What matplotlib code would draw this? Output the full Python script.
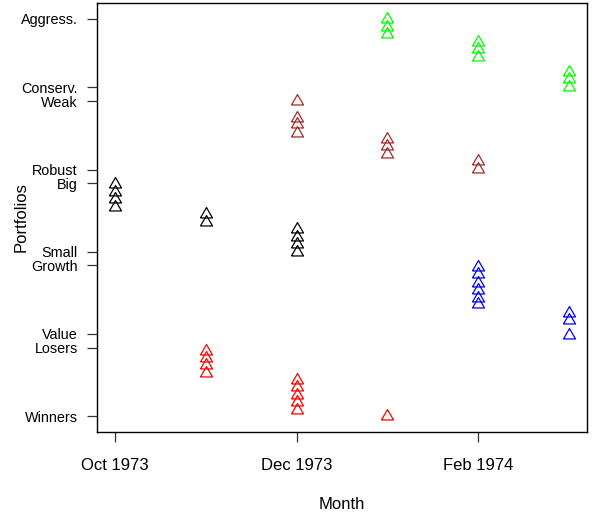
import matplotlib
matplotlib.use("Agg")
from matplotlib import pyplot as plt

plt.rcParams['font.family'] = ['Liberation Sans', 'DejaVu Sans']

# month index: 0 = Oct 1973 ... 5 = Mar 1974
month_ticks = [0, 2, 4]
month_labels = ["Oct 1973", "Dec 1973", "Feb 1974"]

portfolio_pos = [0, 1, 1.2, 2.2, 2.4, 3.4, 3.6, 4.6, 4.8, 5.8]
portfolio_labels = ["Winners", "Losers", "Value", "Growth", "Small",
                    "Big", "Robust", "Weak", "Conserv.", "Aggress."]

size_month = [0, 0, 0, 0, 1, 1, 2, 2, 2, 2]
size_val = [3.39, 3.27, 3.17, 3.05, 2.95, 2.83, 2.73, 2.61, 2.51, 2.39]

mom_month = [1, 1, 1, 1, 2, 2, 2, 2, 2, 3]
mom_val = [0.95, 0.85, 0.75, 0.63, 0.53, 0.43, 0.31, 0.21, 0.09, 0.0]

prof_month = [2, 2, 2, 2, 3, 3, 3, 4, 4]
prof_val = [4.60, 4.36, 4.26, 4.14, 4.05, 3.95, 3.83, 3.72, 3.61]

inv_month = [3, 3, 3, 4, 4, 4, 5, 5, 5]
inv_val = [5.80, 5.68, 5.58, 5.46, 5.36, 5.24, 5.02, 4.92, 4.80]

value_month = [4, 4, 4, 4, 4, 4, 5, 5, 5]
value_val = [2.17, 2.07, 1.95, 1.84, 1.73, 1.63, 1.51, 1.41, 1.19]

# open triangle centred on its centroid, like pch = 2
tri = [(-1, -0.577), (1, -0.577), (0, 1.155), (-1, -0.577)]

fig = plt.figure(figsize=(5.95, 5.17), dpi=100)
ax = fig.add_axes([97 / 595, 85 / 517, 490 / 595, 429 / 517])

for m, v, c in [(size_month, size_val, "black"),
                (mom_month, mom_val, "#FF0000"),
                (prof_month, prof_val, "#A52A2A"),
                (inv_month, inv_val, "#00FF00"),
                (value_month, value_val, "#0000FF")]:
    ax.plot(m, v, linestyle="none", marker=tri, markersize=10,
            markerfacecolor="none", markeredgecolor=c, markeredgewidth=0.9)

ax.set_xlim(-0.2, 5.2)
ax.set_ylim(-0.232, 6.032)
ax.set_xticks(month_ticks)
ax.set_xticklabels(month_labels, fontsize=12)
ax.set_yticks(portfolio_pos)
ax.set_yticklabels(portfolio_labels, fontsize=10.4)
ax.tick_params(length=7, width=0.9, color="#333333")
ax.tick_params(axis="x", pad=11.5)
ax.tick_params(axis="y", pad=6.8)
for s in ax.spines.values():
    s.set_linewidth(1.0)

ax.set_xlabel("Month", fontsize=12)
ax.set_ylabel("Portfolios", fontsize=12)
ax.xaxis.set_label_coords(0.5, -0.152)
ax.yaxis.set_label_coords(-0.139, 0.5)

fig.savefig("out.png", dpi=100)
